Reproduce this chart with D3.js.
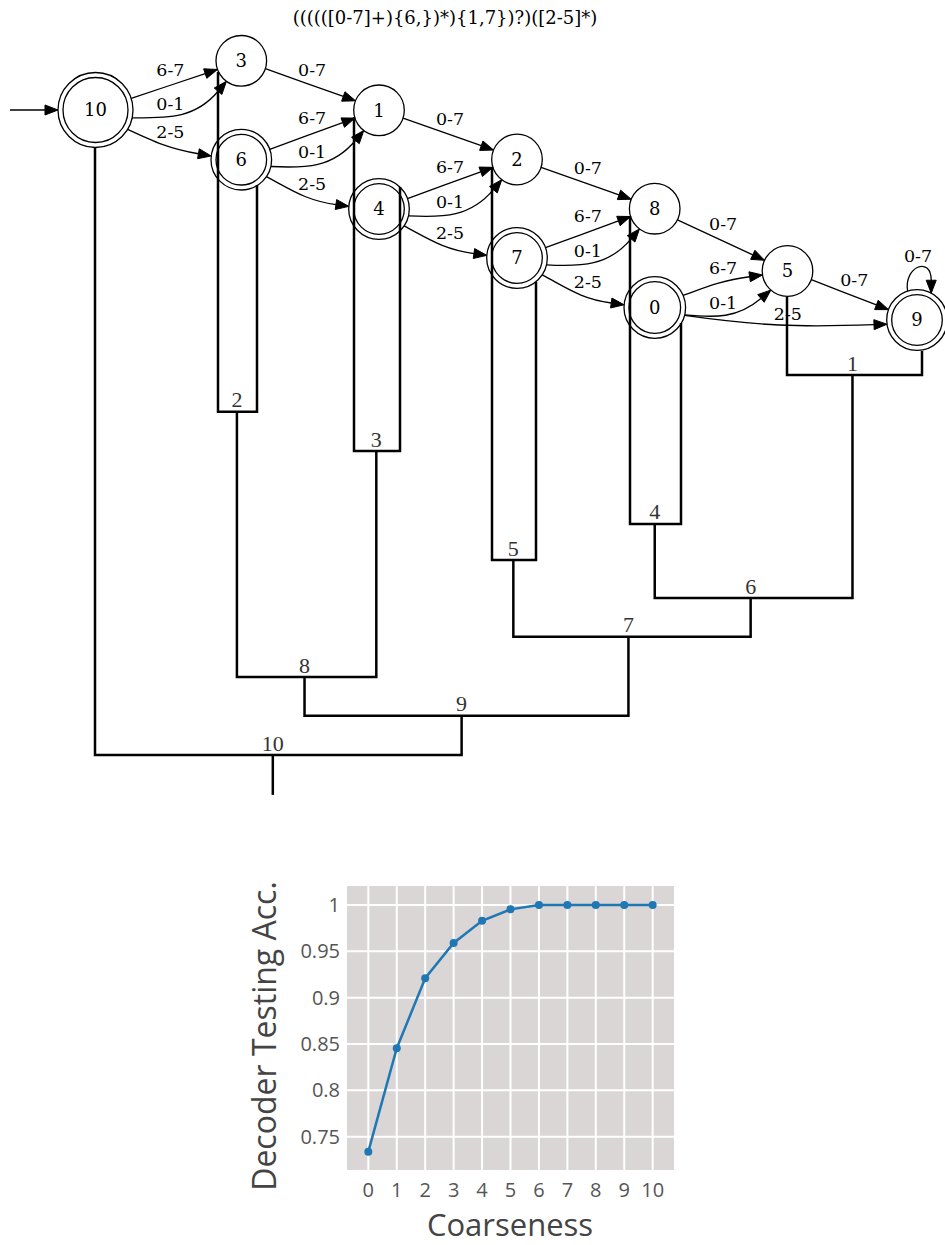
<!DOCTYPE html>
<html>
<head>
<meta charset="utf-8">
<script src="https://cdnjs.cloudflare.com/ajax/libs/d3/7.8.5/d3.min.js"></script>
<style>
body { margin: 0; background: #fff; }
</style>
</head>
<body>
<script>
// ---------- data ----------
const title = "((((([0-7]+){6,})*){1,7})?)([2-5]*)"

// states of the automaton, accepting ones are drawn with a double circle
const stateIds = ["10", "3", "6", "1", "4", "2", "7", "8", "0", "5", "9"]
const acceptIds = ["10", "6", "4", "7", "0", "9"]
const startState = "10"

// transitions: source, target, label
const transitions = [
  ["10", "3", "6-7"], ["10", "3", "0-1"], ["10", "6", "2-5"],
  ["3", "1", "0-7"],
  ["6", "1", "6-7"], ["6", "1", "0-1"], ["6", "4", "2-5"],
  ["1", "2", "0-7"],
  ["4", "2", "6-7"], ["4", "2", "0-1"], ["4", "7", "2-5"],
  ["2", "8", "0-7"],
  ["7", "8", "6-7"], ["7", "8", "0-1"], ["7", "0", "2-5"],
  ["8", "5", "0-7"],
  ["0", "5", "6-7"], ["0", "5", "0-1"], ["0", "9", "2-5"],
  ["5", "9", "0-7"],
  ["9", "9", "0-7"]
]

// hierarchical merge of states: [label, left child, right child, height]
const merges = [
  ["1", "5", "9", 1.0],
  ["2", "3", "6", 1.97],
  ["3", "1", "4", 3.0],
  ["4", "8", "0", 4.92],
  ["5", "2", "7", 5.87],
  ["6", "m4", "m1", 6.87],
  ["7", "m5", "m6", 7.89],
  ["8", "m2", "m3", 8.95],
  ["9", "m8", "m7", 9.97],
  ["10", "10", "m9", 11.0]
]
const rootStem = 12.05

// decoder accuracy vs coarseness
const coarseness = [0, 1, 2, 3, 4, 5, 6, 7, 8, 9, 10]
const accuracy = [0.7338, 0.8454, 0.921, 0.959, 0.983, 0.9953, 1, 1, 1, 1, 1]
const yTicks = [0.75, 0.8, 0.85, 0.9, 0.95, 1]

// ---------- layout (graphviz style positions) ----------
const statePos = {
  "10": {x: 95.5, y: 110, r: 37.5},
  "3": {x: 241.3, y: 60.8, r: 25.3},
  "6": {x: 241.3, y: 159.7, r: 30.3},
  "1": {x: 379, y: 110.3, r: 25.3},
  "4": {x: 379, y: 209, r: 30.3},
  "2": {x: 517, y: 159.5, r: 25.3},
  "7": {x: 517, y: 258, r: 30.3},
  "8": {x: 654.7, y: 208.7, r: 25.3},
  "0": {x: 654.8, y: 307.5, r: 30.8},
  "5": {x: 787.5, y: 271, r: 25.3},
  "9": {x: 917, y: 320, r: 30.3}
}
// routing by label kind: [start angle, end angle, start tangent, end tangent]
const routeKind = {
  "6-7": [-20, 162],
  "0-1": [13, 127, 3, -50],
  "2-5": [34, 185, 28, 8],
  "0-7": [18, 202]
}
const routeOverride = {
  "10>3:6-7": [-18, 160],
  "10>3:0-1": [12, 126, 0, -50],
  "10>6:2-5": [31, 187, 25, 10],
  "8>5:0-7": [26, 205],
  "0>5:6-7": [-23, 171, -20, -8],
  "0>5:0-1": [14, 131, 5, -40],
  "0>9:2-5": [15, 172, 8, -2],
  "5>9:0-7": [20, 200],
  "9>9:0-7": [-108, -62, -100, 90]
}
// where each state's dendrogram branch begins
const leafAnchor = {
  "10": [95, 148], "3": [218, 72], "6": [257, 185], "1": [354, 117],
  "4": [400, 187], "2": [492, 167], "7": [536, 282], "8": [630, 216],
  "0": [681, 323], "5": [787, 297], "9": [922, 351]
}
const stemFrac = 0.485

const W = 945, H = 1245
const svg = d3.select("body").append("svg")
  .attr("width", W)
  .attr("height", H)

const serif = "'DejaVu Serif', serif"

// title
svg.append("text")
  .attr("x", 445).attr("y", 24)
  .attr("text-anchor", "middle")
  .attr("font-family", serif)
  .attr("font-size", 18)
  .text(title)

// ---------- automaton ----------
const deg = Math.PI / 180
const dir = a => [Math.cos(a * deg), Math.sin(a * deg)]
const onCircle = (id, a) => {
  const p = statePos[id], d = dir(a)
  return [p.x + p.r * d[0], p.y + p.r * d[1]]
}
function bez(p0, c1, c2, p3, t) {
  const u = 1 - t
  return [0, 1].map(i => u*u*u*p0[i] + 3*u*u*t*c1[i] + 3*u*t*t*c2[i] + t*t*t*p3[i])
}

const g = svg.append("g")
const arrowLen = 13, arrowHalf = 5

function arrowHead(tip, a) {
  const d = dir(a), base = [tip[0] - arrowLen * d[0], tip[1] - arrowLen * d[1]]
  const p = d3.path()
  p.moveTo(tip[0], tip[1])
  p.lineTo(base[0] - arrowHalf * d[1], base[1] + arrowHalf * d[0])
  p.lineTo(base[0] + arrowHalf * d[1], base[1] - arrowHalf * d[0])
  p.closePath()
  g.append("path").attr("d", p.toString()).attr("fill", "#000").attr("stroke", "#000").attr("stroke-width", 1)
}

transitions.forEach(([s, t, lab]) => {
  const key = s + ">" + t + ":" + lab
  const r = routeOverride[key] || routeKind[lab]
  const p0 = onCircle(s, r[0]), tip = onCircle(t, r[1])
  let t0, t1
  if (r.length === 2) {
    t0 = t1 = Math.atan2(tip[1] - p0[1], tip[0] - p0[0]) / deg
  } else { t0 = r[2]; t1 = r[3] }
  const d1 = dir(t1), d0 = dir(t0)
  const b = [tip[0] - arrowLen * d1[0], tip[1] - arrowLen * d1[1]]
  const L = s === t ? 62 : Math.hypot(b[0] - p0[0], b[1] - p0[1])
  const k = 0.4
  const c1 = [p0[0] + k * L * d0[0], p0[1] + k * L * d0[1]]
  const c2 = [b[0] - k * L * d1[0], b[1] - k * L * d1[1]]
  const p = d3.path()
  p.moveTo(p0[0], p0[1])
  p.bezierCurveTo(c1[0], c1[1], c2[0], c2[1], b[0], b[1])
  g.append("path").attr("d", p.toString())
    .attr("fill", "none").attr("stroke", "#000").attr("stroke-width", 1.3)
  arrowHead(tip, t1)

  // label placement
  const pts = d3.range(0, 1.001, 0.01).map(tt => bez(p0, c1, c2, b, tt))
  let lx, ly
  if (s === t) {
    lx = statePos[s].x + 1
    ly = d3.min(pts, q => q[1]) - 4
  } else {
    lx = (statePos[s].x + statePos[t].x) / 2 + 2
    const i = d3.minIndex(pts, q => Math.abs(q[0] - lx))
    const j = Math.min(i + 1, pts.length - 1), h = Math.max(i - 1, 0)
    const slope = (pts[j][1] - pts[h][1]) / (pts[j][0] - pts[h][0])
    ly = pts[i][1] - (5 + 13 * Math.abs(slope))
  }
  g.append("text")
    .attr("x", lx).attr("y", ly)
    .attr("text-anchor", "middle")
    .attr("font-family", serif)
    .attr("font-size", 17.5)
    .text(lab)
})

// start arrow
{
  const p = statePos[startState]
  const tip = [p.x - p.r, p.y]
  g.append("line")
    .attr("x1", 10).attr("y1", p.y)
    .attr("x2", tip[0] - arrowLen).attr("y2", p.y)
    .attr("stroke", "#000").attr("stroke-width", 1.3)
  arrowHead(tip, 0)
}

// states
const nodes = g.selectAll("g.state")
  .data(stateIds)
  .join("g")
  .attr("class", "state")
  .attr("transform", d => `translate(${statePos[d].x},${statePos[d].y})`)

nodes.append("circle")
  .attr("r", d => statePos[d].r)
  .attr("fill", "#fff").attr("stroke", "#000").attr("stroke-width", 1.3)
nodes.filter(d => acceptIds.includes(d)).append("circle")
  .attr("r", d => statePos[d].r - 5)
  .attr("fill", "none").attr("stroke", "#000").attr("stroke-width", 1.3)
nodes.append("text")
  .attr("text-anchor", "middle")
  .attr("dy", "0.36em")
  .attr("font-family", serif)
  .attr("font-size", 18)
  .text(d => d)

// ---------- dendrogram ----------
const hy = d3.scaleLinear().domain([1, 11]).range([375, 755])
const dg = svg.append("g")
const mx = {}
const getX = c => c[0] === "m" ? mx[c.slice(1)] : leafAnchor[c][0]
const getTop = c => c[0] === "m" ? hy(merges.find(m => m[0] === c.slice(1))[3]) : leafAnchor[c][1]

merges.forEach(([lab, a, b, h]) => {
  const xa = getX(a), xb = getX(b), y = hy(h)
  mx[lab] = xa + (xb - xa) * stemFrac
  const p = d3.path()
  p.moveTo(xa, getTop(a))
  p.lineTo(xa, y)
  p.lineTo(xb, y)
  p.lineTo(xb, getTop(b))
  dg.append("path").attr("d", p.toString())
    .attr("fill", "none").attr("stroke", "#000").attr("stroke-width", 2.5)
  dg.append("text")
    .attr("x", mx[lab]).attr("y", y - 4.5)
    .attr("text-anchor", "middle")
    .attr("font-family", "'Liberation Serif', serif")
    .attr("font-size", 22)
    .attr("fill", "#333")
    .text(lab)
})
{
  const root = merges[merges.length - 1]
  dg.append("line")
    .attr("x1", mx[root[0]]).attr("x2", mx[root[0]])
    .attr("y1", hy(root[3])).attr("y2", hy(rootStem))
    .attr("stroke", "#000").attr("stroke-width", 2.5)
}

// ---------- accuracy plot ----------
const x = d3.scaleLinear().domain([-0.75, 10.75]).range([347, 674])
const y = d3.scaleLinear().domain([0.714, 1.0205]).range([1170, 886])
const sans = "'Open Sans', sans-serif"
const pg = svg.append("g")

pg.append("rect")
  .attr("x", x.range()[0]).attr("y", y.range()[1])
  .attr("width", x.range()[1] - x.range()[0])
  .attr("height", y.range()[0] - y.range()[1])
  .attr("fill", "#dad6d6")

pg.selectAll("line.vg").data(coarseness).join("line")
  .attr("x1", d => x(d)).attr("x2", d => x(d))
  .attr("y1", y.range()[1]).attr("y2", y.range()[0])
  .attr("stroke", "#fff").attr("stroke-width", 2)
pg.selectAll("line.hg").data(yTicks).join("line")
  .attr("y1", d => y(d)).attr("y2", d => y(d))
  .attr("x1", x.range()[0]).attr("x2", x.range()[1])
  .attr("stroke", "#fff").attr("stroke-width", 2)

pg.selectAll("text.xt").data(coarseness).join("text")
  .attr("x", d => x(d)).attr("y", 1197)
  .attr("text-anchor", "middle")
  .attr("font-family", sans).attr("font-size", 20).attr("fill", "#555")
  .text(d => d)
pg.selectAll("text.yt").data(yTicks).join("text")
  .attr("x", 340).attr("y", d => y(d)).attr("dy", "0.35em")
  .attr("text-anchor", "end")
  .attr("font-family", sans).attr("font-size", 20).attr("fill", "#555")
  .text(d => String(+d.toFixed(2)))

const pts = coarseness.map((c, i) => [c, accuracy[i]])
pg.append("path")
  .datum(pts)
  .attr("d", d3.line().x(d => x(d[0])).y(d => y(d[1])))
  .attr("fill", "none").attr("stroke", "#1f77b4").attr("stroke-width", 2.5)
pg.selectAll("circle").data(pts).join("circle")
  .attr("cx", d => x(d[0])).attr("cy", d => y(d[1])).attr("r", 4)
  .attr("fill", "#1f77b4")

pg.append("text")
  .attr("x", 510).attr("y", 1236)
  .attr("text-anchor", "middle")
  .attr("font-family", sans).attr("font-size", 31).attr("fill", "#444")
  .text("Coarseness")
pg.append("text")
  .attr("transform", "translate(276,1036) rotate(-90)")
  .attr("text-anchor", "middle")
  .attr("font-family", sans).attr("font-size", 32).attr("fill", "#444")
  .text("Decoder Testing Acc.")
</script>
</body>
</html>
